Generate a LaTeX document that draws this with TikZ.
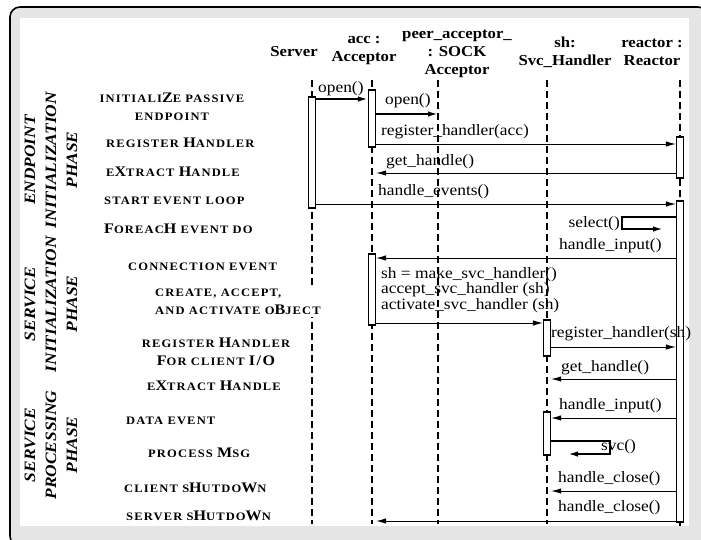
\documentclass[tikz,border=0pt]{standalone}
\usepackage{fontspec}
\setmainfont{Liberation Serif}[FakeStretch=1.1]
\newfontfamily\capsfont{Liberation Serif}[FakeStretch=1.1,LetterSpace=10]
\usetikzlibrary{arrows.meta}
\newcommand\lo[1]{{\fontsize{11.4}{13}\selectfont #1}}
\begin{document}
\begin{tikzpicture}[x=1pt,y=-1pt,
  hdr/.style={font=\bfseries\fontsize{15.2}{18}\selectfont, align=center, inner sep=0pt},
  life/.style={dash pattern=on 7pt off 4pt, line width=1.4pt},
  bar/.style={draw, fill=white, line width=1.2pt, minimum width=7pt, inner sep=0pt},
  msg/.style={line width=1pt, -{Latex[length=10pt,width=5.5pt]}},
  msgb/.style={line width=1.8pt, -{Latex[length=10pt,width=5.5pt]}},
  txt/.style={font=\fontsize{15.8}{14}\selectfont, inner sep=0pt, align=left, anchor=west},
  stp/.style={font=\capsfont\bfseries\fontsize{14.6}{18}\selectfont, inner sep=0pt, align=center},
  phase/.style={font=\bfseries\itshape\fontsize{15.8}{21}\selectfont, rotate=90, align=center, inner sep=0pt}]
\path[use as bounding box, clip] (0,0) rectangle (701,539);
\draw[line width=1.6pt, rounded corners=10pt, fill=black!10] (10,7) rectangle (708,546);
\fill[white] (20,18) rectangle (689,526);

\node[hdr] (h1) at (294,52) {Server};
\node[hdr] (h2) at (364,51) {acc :\\Acceptor};
\node[hdr] (h3) at (457,54) {peer\_acceptor\_\\: SOCK\\Acceptor};
\node[hdr] (h4) at (565,52) {sh:\\Svc\_Handler};
\node[hdr] (h5) at (652,52) {reactor :\\Reactor};

\coordinate (t1) at (312,80);
\coordinate (t2) at (372,80);
\coordinate (t3) at (438,80);
\coordinate (t4) at (547,80);
\coordinate (t5) at (680,80);
\coordinate (e1) at (312,524);
\coordinate (e2) at (372,524);
\coordinate (e3) at (438,524);
\coordinate (e4) at (547,524);
\coordinate (e5) at (680,526);
\draw[life] (t1) -- (e1);
\draw[life] (t2) -- (e2);
\draw[life] (t3) -- (e3);
\draw[life] (t4) -- (e4);
\draw[life] (t5) -- (e5);

\node[phase] (f1) at (51,160) {ENDPOINT\\INITIALIZATION\\PHASE};
\node[phase] (f2) at (51,304) {SERVICE\\INITIALIZATION\\PHASE};
\node[phase] (f3) at (51,445) {SERVICE\\PROCESSING\\PHASE};

\node[stp] (p1) at (172,107) {\lo{INITIALI}Z\lo{E PASSIVE}\\\lo{ENDPOINT}};
\node[stp, anchor=west] (p2) at (106,143) {\lo{REGISTER }H\lo{ANDLER}};
\node[stp, anchor=west] (p3) at (106,172) {\lo{E}X\lo{TRACT }H\lo{ANDLE}};
\node[stp, anchor=west] (p4) at (104,201) {\lo{START EVENT LOOP}};
\node[stp, anchor=west] (p5) at (104,229) {F\lo{OREAC}H\lo{ EVENT DO}};
\node[stp, anchor=west] (p6) at (128,267) {\lo{CONNECTION EVENT}};
\node[stp, anchor=west, align=left, fill=white, inner sep=2pt] (p7) at (153,302) {\lo{CREATE, ACCEPT,}\\\lo{AND ACTIVATE O}B\lo{JECT}};
\node[stp] (p8) at (216,352) {\lo{REGISTER }H\lo{ANDLER}\\F\lo{OR CLIENT }I/O};
\node[stp, anchor=west] (p9) at (147,386) {\lo{E}X\lo{TRACT }H\lo{ANDLE}};
\node[stp, anchor=west] (p10) at (126,421) {\lo{DATA EVENT}};
\node[stp, anchor=west] (p11) at (148,453) {\lo{PROCESS }M\lo{SG}};
\node[stp, anchor=west] (p12) at (124,488) {\lo{CLIENT S}H\lo{UTDO}W\lo{N}};
\node[stp, anchor=west] (p13) at (126,516) {\lo{SERVER S}H\lo{UTDO}W\lo{N}};

\node[bar, minimum height=111pt] (sb) at (312,152.5) {};
\node[bar, minimum height=57pt] (ab1) at (372,118.5) {};
\node[bar, minimum height=71pt] (ab2) at (372,289.5) {};
\node[bar, minimum height=36pt] (hb1) at (547,338) {};
\node[bar, minimum height=43pt] (hb2) at (547,433.5) {};
\node[bar, minimum height=41pt] (rb1) at (680,157.5) {};
\node[bar, minimum height=321pt] (rb2) at (680,361.5) {};

\coordinate (m1) at (0,99);
\coordinate (m2) at (0,114);
\coordinate (m3) at (0,144);
\coordinate (m4) at (0,173);
\coordinate (m5) at (0,204);
\coordinate (m7) at (0,258);
\coordinate (m9) at (0,323);
\coordinate (m10) at (0,347);
\coordinate (m11) at (0,379);
\coordinate (m12) at (0,418);
\coordinate (m14) at (0,491);
\coordinate (m15) at (0,521);
\coordinate (s1) at (622,217);
\coordinate (s2) at (663,229);
\coordinate (v1) at (610,441);
\coordinate (v2) at (568,454);

\draw[msgb] (sb.east |- m1) -- (ab1.west |- m1);
\draw[msgb] (ab1.east |- m2) -- (t3 |- m2);
\draw[msg] (ab1.east |- m3) -- (rb1.west |- m3);
\draw[msg] (rb1.west |- m4) -- (ab2.east |- m4);
\draw[msg] (sb.east |- m5) -- (rb2.west |- m5);
\draw[msgb] (rb2.west |- s1) -- (s1) |- (s2);
\draw[msg] (rb2.west |- m7) -- (ab2.east |- m7);
\draw[msg] (ab2.east |- m9) -- (hb1.west |- m9);
\draw[msg] (hb1.east |- m10) -- (rb2.west |- m10);
\draw[msg] (rb2.west |- m11) -- (hb1.east |- m11);
\draw[msg] (rb2.west |- m12) -- (hb2.east |- m12);
\draw[msgb] (hb2.east |- v1) -- (v1) |- (v2);
\draw[msg] (rb2.west |- m14) -- (hb1.east |- m14);
\draw[msg] (rb2.west |- m15) -- (ab2.east |- m15);

\node[txt] (n1) at (318,89) {open()};
\node[txt] (n2) at (385,101) {open()};
\node[txt] (n3) at (381,132) {register\_handler(acc)};
\node[txt] (n4) at (386,162) {get\_handle()};
\node[txt] (n5) at (378,192) {handle\_events()};
\node[txt, anchor=east] (n6) at (620,224) {select()};
\node[txt] (n7) at (559,246) {handle\_input()};
\node[txt] (n8) at (381,290) {sh = make\_svc\_handler()\\accept\_svc\_handler (sh)\\activate\_svc\_handler (sh)};
\node[txt] (n10) at (551,334) {register\_handler(sh)};
\node[txt] (n11) at (561,368) {get\_handle()};
\node[txt] (n12) at (559,406) {handle\_input()};
\node[txt] (n13) at (601,447) {svc()};
\node[txt] (n14) at (558,479) {handle\_close()};
\node[txt] (n15) at (558,508) {handle\_close()};
\end{tikzpicture}
\end{document}
